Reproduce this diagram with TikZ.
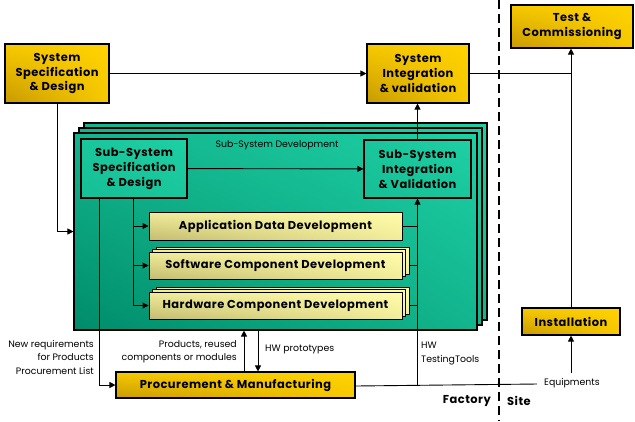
\documentclass[tikz,border=0pt]{standalone}
\usepackage{fontspec}
\setmainfont{Poppins}
\newfontfamily\boxfont{Poppins}[LetterSpace=4]
\usetikzlibrary{arrows.meta,shadings}
\definecolor{goldhi}{HTML}{FFD200}
\definecolor{goldlo}{HTML}{C89A00}
\definecolor{tealhi}{HTML}{1ED0A4}
\definecolor{teallo}{HTML}{008C6A}
\definecolor{palehi}{HTML}{FFFCA8}
\definecolor{palelo}{HTML}{C4BC70}
\tikzset{
  boxtext/.style={font=\boxfont\bfseries\fontsize{11.5}{15}\selectfont, align=center, inner sep=0pt},
  goldbox/.style={draw=black, line width=1.1bp, rectangle, boxtext,
     lower left=goldlo, upper right=goldhi, lower right=goldhi!85!goldlo, upper left=goldhi!85!goldlo},
  tealbox/.style={draw=black, line width=1.1bp, rectangle, boxtext,
     lower left=teallo, upper right=tealhi, lower right=tealhi!60!teallo, upper left=tealhi!60!teallo},
  subbox/.style={draw=black, line width=1.1bp, rectangle, boxtext,
     lower left=tealhi!75!teallo, upper right=tealhi, lower right=tealhi!85!teallo, upper left=tealhi!85!teallo},
  palebox/.style={draw=black, line width=0.9bp, rectangle, boxtext,
     lower left=palelo, upper right=palehi, lower right=palehi!75!palelo, upper left=palehi!75!palelo},
  conn/.style={draw=black, line width=0.9bp},
  arr/.style={conn, -{Triangle[length=6bp,width=6bp]}},
  lbl/.style={font=\fontsize{9.4}{13.5}\selectfont, inner sep=0pt},
  sitelbl/.style={font=\boxfont\bfseries\fontsize{11.5}{13}\selectfont, inner sep=0pt},
}
\begin{document}
\begin{tikzpicture}[x=1bp,y=-1bp]
\useasboundingbox (0,0) rectangle (635,421);
\fill[white] (0,0) rectangle (635,421);

% top-level boxes
\node[goldbox, minimum width=104bp, minimum height=59bp] (sysspec) at (57,73.5) {System\\Specification\\\& Design};
\node[goldbox, minimum width=102bp, minimum height=59bp] (sysint) at (418,73.5) {System\\Integration\\\& validation};
\node[goldbox, minimum width=122bp, minimum height=43bp] (test) at (572,26.5) {Test \&\\Commissioning};
\node[goldbox, minimum width=98bp, minimum height=27bp] (install) at (571,321.5) {Installation};
\node[goldbox, minimum width=239bp, minimum height=26bp] (proc) at (235.5,385) {Procurement \& Manufacturing};

% sub-system development stack
\node[tealbox, minimum width=403bp, minimum height=197bp] (ss3) at (285.5,221.5) {};
\node[tealbox, minimum width=403bp, minimum height=197bp] (ss2) at (280.5,226.5) {};
\node[tealbox, minimum width=403bp, minimum height=197bp] (ssdev) at (275.5,231.5) {};
\node[lbl] (sslbl) at (277,145) {Sub-System Development};

\node[subbox, minimum width=106bp, minimum height=59bp] (subspec) at (134,168.5) {Sub-System\\Specification\\\& Design};
\node[subbox, minimum width=107bp, minimum height=58bp] (subint) at (417.5,169) {Sub-System\\Integration\\\& Validation};

\node[palebox, minimum width=253bp, minimum height=28bp] (app) at (275.5,226) {Application Data Development};
\node[palebox, minimum width=253bp, minimum height=27bp] (sw3) at (282.5,260.5) {};
\node[palebox, minimum width=253bp, minimum height=27bp] (sw2) at (279,263) {};
\node[palebox, minimum width=253bp, minimum height=27bp] (sw) at (275.5,265.5) {Software Component Development};
\node[palebox, minimum width=253bp, minimum height=27bp] (hw3) at (282.5,300.5) {};
\node[palebox, minimum width=253bp, minimum height=27bp] (hw2) at (279,303) {};
\node[palebox, minimum width=253bp, minimum height=27bp] (hw) at (275.5,305.5) {Hardware Component Development};

% connectors
\draw[arr] (sysspec) -- (sysint);
\draw[arr] (sysspec.south) |- (ssdev.west);
\draw[arr] (subspec) -- (subint);
\coordinate (br) at ([xshift=-1bp]subspec.south);
\coordinate (bl) at ([xshift=-35bp]subspec.south);
\draw[arr] (br) |- (hw.west);
\draw[arr] (br |- app.west) -- (app.west);
\draw[arr] (br |- sw.west) -- (sw.west);
\draw[arr] (bl) |- (proc.west);
\coordinate (col) at (proc.east -| subint.south);
\draw[arr] ([yshift=-1bp]col) -- (subint.south);
\draw[conn] (app.east) -- (app.east -| subint.south);
\draw[conn] (sw.east -| sw3.east) -- (sw.east -| subint.south);
\draw[conn] (hw.east -| hw3.east) -- (hw.east -| subint.south);
\draw[arr] (subint.north) -- (subint.north |- sysint.south);
\draw[conn] (sysint.east) -- (sysint.east -| install.north);
\draw[arr] (install.north) -- (install.north |- test.south);
\coordinate (eqend) at (537,384);
\draw[conn] ([yshift=-1bp]proc.east) -- (eqend);
\coordinate (eqarr) at (571,373);
\draw[arr] (eqarr) -- (install.south);
\draw[arr] (proc.north -| 244,0) -- (ssdev.south -| 244,0);
\draw[arr] (ssdev.south -| 258,0) -- (proc.north -| 258,0);

% divider
\coordinate (dtop) at (499,0);
\coordinate (dbot) at (499,421);
\draw[line width=2.2bp, dash pattern=on 9bp off 5bp] (dtop) -- (dbot);

% labels
\node[lbl, align=right, anchor=north east] (newreq) at (94,340) {New requirements\\for Products\\Procurement List};
\node[lbl, align=right, anchor=north east] (prodlbl) at (237,340) {Products, reused\\components or modules};
\node[lbl, anchor=west] (hwp) at (265,349) {HW prototypes};
\node[lbl, align=left, anchor=north west] (hwt) at (421,342) {HW\\TestingTools};
\node[lbl, anchor=west] (eqlbl) at (544,383) {Equipments};
\node[sitelbl, anchor=east] (fac) at (491,401) {Factory};
\node[sitelbl, anchor=west] (site) at (507,401) {Site};
\end{tikzpicture}
\end{document}
